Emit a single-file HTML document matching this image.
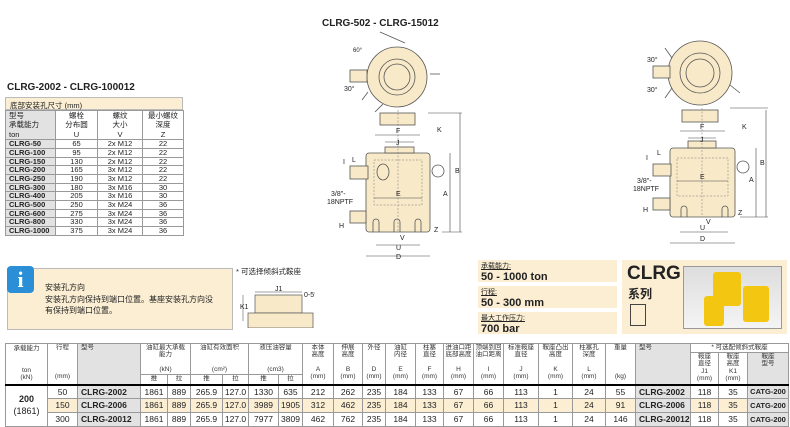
<!DOCTYPE html>
<html><head><meta charset="utf-8">
<style>
*{margin:0;padding:0;box-sizing:border-box}
body{width:790px;height:426px;background:#fff;position:relative;overflow:hidden;font-family:"Liberation Sans","Noto Sans CJK SC",sans-serif;color:#222}
.a{position:absolute}
table{border-collapse:collapse;table-layout:fixed;position:absolute}
td{border:1px solid #999;font-size:8px;text-align:center;padding:0;line-height:1;overflow:hidden;white-space:nowrap}
.lt td{height:8.7px;font-size:7.5px}
.g{background:#e2e2e2}
.b{font-weight:bold}
.bg{background:#fbeed3}
.mt td{font-size:8.5px}
.mt .h td{font-size:6.5px;color:#333;vertical-align:top;white-space:normal;line-height:1.12}
</style></head><body>

<div class="a b" style="left:7px;top:82px;font-size:10px">CLRG-2002 - CLRG-100012</div>
<div class="a bg" style="left:5px;top:97px;width:178px;height:13px;border:1px solid #bbb;font-size:7.5px;padding:2px 4px">底部安装孔尺寸 (mm)</div>
<table class="lt" style="left:5px;top:110px;width:178px">
<colgroup><col style="width:50px"><col style="width:42px"><col style="width:45px"><col style="width:41px"></colgroup>
<tr><td class="g" style="height:29px;text-align:left;padding-left:3px;white-space:normal;line-height:1.25">型号<br>承载能力<br>ton</td><td style="white-space:normal;line-height:1.25">螺栓<br>分布圆<br>U</td><td style="white-space:normal;line-height:1.25">螺纹<br>大小<br>V</td><td style="white-space:normal;line-height:1.25">最小螺纹<br>深度<br>Z</td></tr>
<tr><td class="g b" style="text-align:left;padding-left:3px">CLRG-50</td><td>65</td><td>2x M12</td><td>22</td></tr>
<tr><td class="g b" style="text-align:left;padding-left:3px">CLRG-100</td><td>95</td><td>2x M12</td><td>22</td></tr>
<tr><td class="g b" style="text-align:left;padding-left:3px">CLRG-150</td><td>130</td><td>2x M12</td><td>22</td></tr>
<tr><td class="g b" style="text-align:left;padding-left:3px">CLRG-200</td><td>165</td><td>3x M12</td><td>22</td></tr>
<tr><td class="g b" style="text-align:left;padding-left:3px">CLRG-250</td><td>190</td><td>3x M12</td><td>22</td></tr>
<tr><td class="g b" style="text-align:left;padding-left:3px">CLRG-300</td><td>180</td><td>3x M16</td><td>30</td></tr>
<tr><td class="g b" style="text-align:left;padding-left:3px">CLRG-400</td><td>205</td><td>3x M16</td><td>30</td></tr>
<tr><td class="g b" style="text-align:left;padding-left:3px">CLRG-500</td><td>250</td><td>3x M24</td><td>36</td></tr>
<tr><td class="g b" style="text-align:left;padding-left:3px">CLRG-600</td><td>275</td><td>3x M24</td><td>36</td></tr>
<tr><td class="g b" style="text-align:left;padding-left:3px">CLRG-800</td><td>330</td><td>3x M24</td><td>36</td></tr>
<tr><td class="g b" style="text-align:left;padding-left:3px">CLRG-1000</td><td>375</td><td>3x M24</td><td>36</td></tr>
</table>

<div class="a b" style="left:322px;top:18px;font-size:10px">CLRG-502 - CLRG-15012</div>

<svg class="a" style="left:0;top:0" width="790" height="260" viewBox="0 0 790 260">
<g stroke="#555" stroke-width="0.8" fill="#f8e9c9">
<circle cx="397" cy="77" r="30"/>
<circle cx="397" cy="77" r="18" fill="#f8e9c9"/>
<circle cx="397" cy="77" r="13"/>
<rect x="350" y="70" width="17" height="12"/>
<line x1="405" y1="43" x2="380" y2="32"/><line x1="430" y1="74" x2="440" y2="74"/><line x1="383" y1="104" x2="375" y2="112"/><line x1="368" y1="92" x2="362" y2="100"/>
<rect x="380" y="113" width="35" height="12"/>
<rect x="366" y="153" width="64" height="79" rx="3"/>
<rect x="385" y="147" width="29" height="6"/>
<rect x="350" y="166" width="18" height="13"/><ellipse cx="383" cy="172" rx="6" ry="8"/>
<rect x="350" y="211" width="16" height="12"/>
<circle cx="438" cy="171" r="6" fill="none"/>
<path d="M373 232v-10a3 3 0 0 1 6 0v10M394 232v-10a3 3 0 0 1 6 0v10M415 232v-10a3 3 0 0 1 6 0v10" fill="none"/>
<circle cx="700" cy="73" r="32"/>
<circle cx="700" cy="73" r="20"/>
<circle cx="700" cy="73" r="14"/>
<rect x="653" y="66" width="17" height="12"/>
<line x1="672" y1="58" x2="665" y2="48"/><line x1="672" y1="88" x2="665" y2="98"/><line x1="730" y1="85" x2="740" y2="93"/>
<rect x="682" y="110" width="36" height="12"/>
<rect x="670" y="148" width="65" height="69" rx="3"/>
<rect x="688" y="141" width="28" height="7"/>
<rect x="653" y="164" width="18" height="12"/><rect x="653" y="198" width="17" height="12"/>
<circle cx="743" cy="167" r="6" fill="none"/>
<path d="M681 217v-8a3 3 0 0 1 6 0v8M722 217v-8a3 3 0 0 1 6 0v8" fill="none"/>
</g>
<g stroke="#777" stroke-width="0.5" fill="none" stroke-dasharray="2 1.5">
<rect x="374" y="160" width="48" height="45"/><line x1="398" y1="110" x2="398" y2="232"/>
<rect x="677" y="158" width="51" height="38"/><line x1="702" y1="108" x2="702" y2="217"/>
</g>
<g stroke="#444" stroke-width="0.6" fill="none">
<line x1="375" y1="135" x2="420" y2="135"/><line x1="385" y1="142" x2="414" y2="142"/>
<line x1="374" y1="198" x2="422" y2="198"/>
<line x1="376" y1="245" x2="420" y2="245"/><line x1="366" y1="256" x2="430" y2="256"/>
<line x1="450" y1="153" x2="450" y2="232"/><line x1="460" y1="113" x2="460" y2="232"/>
<line x1="442" y1="232" x2="462" y2="232"/><line x1="428" y1="113" x2="462" y2="113"/>
<line x1="680" y1="131" x2="725" y2="131"/><line x1="688" y1="138" x2="716" y2="138"/>
<line x1="677" y1="181" x2="728" y2="181"/>
<line x1="680" y1="232" x2="728" y2="232"/><line x1="670" y1="243" x2="735" y2="243"/>
<line x1="756" y1="148" x2="756" y2="217"/><line x1="766" y1="110" x2="766" y2="217"/>
<line x1="740" y1="217" x2="768" y2="217"/><line x1="730" y1="108" x2="768" y2="108"/>
</g>
<g font-size="7" fill="#222" font-family="Liberation Sans">
<text x="396" y="133">F</text><text x="396" y="145">J</text><text x="396" y="196">E</text><text x="396" y="250">U</text><text x="396" y="259">D</text>
<text x="443" y="196">A</text><text x="455" y="173">B</text><text x="437" y="132">K</text><text x="434" y="232">Z</text><text x="400" y="240">V</text>
<text x="352" y="162">L</text><text x="343" y="164">I</text><text x="339" y="228">H</text><text x="331" y="196">3/8"-</text><text x="327" y="204">18NPTF</text>
<text x="353" y="52" font-size="6">60°</text><text x="344" y="91">30°</text>
<text x="700" y="129">F</text><text x="700" y="142">J</text><text x="700" y="179">E</text><text x="700" y="230">U</text><text x="700" y="241">D</text>
<text x="749" y="182">A</text><text x="760" y="165">B</text><text x="742" y="129">K</text><text x="738" y="215">Z</text><text x="706" y="224">V</text>
<text x="657" y="155">L</text><text x="646" y="160">I</text><text x="643" y="212">H</text><text x="637" y="183">3/8"-</text><text x="633" y="191">18NPTF</text>
<text x="647" y="62">30°</text><text x="647" y="92">30°</text>
</g>
</svg>

<div class="a bg" style="left:7px;top:268px;width:226px;height:62px;border:1px solid #bbb"></div>
<div class="a" style="left:7px;top:266px;width:27px;height:27px;background:#2a8fd6;border-radius:4px;color:#fff;font:bold 22px 'Liberation Serif',serif;text-align:center;line-height:27px">i</div>
<div class="a" style="left:45px;top:282px;font-size:8px;line-height:11.5px">安装孔方向<br>安装孔方向保持到端口位置。基座安装孔方向没<br>有保持到端口位置。</div>
<div class="a" style="left:236px;top:266px;font-size:7.5px">* 可选择倾斜式鞍座</div>
<svg class="a" style="left:240px;top:283px" width="75" height="45">
<g stroke="#555" stroke-width="0.7" fill="#f8e9c9"><rect x="15" y="12" width="47" height="18"/><rect x="8" y="30" width="65" height="15"/></g>
<g font-size="7" fill="#222"><text x="35" y="8">J1</text><text x="0" y="26">K1</text><text x="64" y="14">0-5°</text></g>
<line x1="3" y1="12" x2="3" y2="38" stroke="#444" stroke-width="0.5"/><line x1="15" y1="9" x2="62" y2="9" stroke="#444" stroke-width="0.5"/>
</svg>

<div class="a bg" style="left:478px;top:260px;width:139px;height:22px;padding:1px 3px"><div style="font-size:7px;text-decoration:underline">承载能力:</div><div class="b" style="font-size:11px">50 - 1000 ton</div></div>
<div class="a bg" style="left:478px;top:286px;width:139px;height:22px;padding:1px 3px"><div style="font-size:7px;text-decoration:underline">行程:</div><div class="b" style="font-size:11px">50 - 300 mm</div></div>
<div class="a bg" style="left:478px;top:312px;width:139px;height:22px;padding:1px 3px"><div style="font-size:7px;text-decoration:underline">最大工作压力:</div><div class="b" style="font-size:11px">700 bar</div></div>
<div class="a bg" style="left:622px;top:260px;width:165px;height:74px"></div>
<div class="a b" style="left:627px;top:263px;font-size:19px">CLRG</div>
<div class="a b" style="left:628px;top:285px;font-size:12px">系列</div>
<div class="a" style="left:630px;top:304px;width:16px;height:22px;border:1.5px solid #444"></div>
<div class="a" style="left:683px;top:266px;width:99px;height:63px;background:linear-gradient(#ddd,#f4f4f4);border:1px solid #999"></div>
<div class="a" style="left:713px;top:272px;width:28px;height:34px;background:#f3c612;border-radius:3px"></div>
<div class="a" style="left:743px;top:286px;width:26px;height:36px;background:#f3c612;border-radius:3px"></div>
<div class="a" style="left:704px;top:296px;width:20px;height:30px;background:#f3c612;border-radius:3px"></div>

<table class="mt" style="left:5px;top:343px;width:783px">
<colgroup><col style="width:42px"><col style="width:30px"><col style="width:63px"><col style="width:27px"><col style="width:23px"><col style="width:32px"><col style="width:26px"><col style="width:30px"><col style="width:24px"><col style="width:31px"><col style="width:29px"><col style="width:23px"><col style="width:30px"><col style="width:28px"><col style="width:30px"><col style="width:30px"><col style="width:35px"><col style="width:34px"><col style="width:33px"><col style="width:30px"><col style="width:55px"><col style="width:28px"><col style="width:29px"><col style="width:41px"></colgroup>
<tr class="h" style="height:9px">
<td rowspan="3" style="padding-top:1px">承载能力<br><br><br>ton<br>(kN)</td>
<td rowspan="3">行程<br><br><br><br>(mm)</td>
<td rowspan="3" class="g" style="text-align:left;padding-left:3px">型号</td>
<td colspan="2" rowspan="2">油缸最大承载<br>能力<br><br>(kN)</td>
<td colspan="2" rowspan="2">油缸有效面积<br><br><br>(cm²)</td>
<td colspan="2" rowspan="2">液压油容量<br><br><br>(cm3)</td>
<td rowspan="3">本体<br>高度<br><br>A<br>(mm)</td>
<td rowspan="3">伸展<br>高度<br><br>B<br>(mm)</td>
<td rowspan="3">外径<br><br><br>D<br>(mm)</td>
<td rowspan="3">油缸<br>内径<br><br>E<br>(mm)</td>
<td rowspan="3">柱塞<br>直径<br><br>F<br>(mm)</td>
<td rowspan="3">进油口距<br>底部高度<br><br>H<br>(mm)</td>
<td rowspan="3">顶端到回<br>油口距离<br><br>I<br>(mm)</td>
<td rowspan="3">标准鞍座<br>直径<br><br>J<br>(mm)</td>
<td rowspan="3">鞍座凸出<br>高度<br><br>K<br>(mm)</td>
<td rowspan="3">柱塞孔<br>深度<br><br>L<br>(mm)</td>
<td rowspan="3">重量<br><br><br><br>(kg)</td>
<td rowspan="3" class="g" style="text-align:left;padding-left:3px">型号</td>
<td colspan="3">* 可选配倾斜式鞍座</td>
</tr>
<tr class="h" style="height:22px">
<td rowspan="2">鞍座<br>直径<br>J1<br>(mm)</td><td rowspan="2">鞍座<br>高度<br>K1<br>(mm)</td><td rowspan="2" class="g">鞍座<br>型号</td>
</tr>
<tr class="h" style="height:10px"><td>推</td><td>拉</td><td>推</td><td>拉</td><td>推</td><td>拉</td></tr>
<tr style="height:14px;border-top:2px solid #000"><td rowspan="3" class="b" style="font-size:9px;line-height:1.3">200<br><span style="font-weight:normal">(1861)</span></td><td>50</td><td class="g b" style="text-align:left;padding-left:3px">CLRG-2002</td><td>1861</td><td>889</td><td>265.9</td><td>127.0</td><td>1330</td><td>635</td><td>212</td><td>262</td><td>235</td><td>184</td><td>133</td><td>67</td><td>66</td><td>113</td><td>1</td><td>24</td><td>55</td><td class="g b" style="text-align:left;padding-left:3px">CLRG-2002</td><td>118</td><td>35</td><td class="g b" style="font-size:7.5px">CATG-200</td></tr>
<tr style="height:14px" class="bg"><td>150</td><td class="g b" style="text-align:left;padding-left:3px">CLRG-2006</td><td>1861</td><td>889</td><td>265.9</td><td>127.0</td><td>3989</td><td>1905</td><td>312</td><td>462</td><td>235</td><td>184</td><td>133</td><td>67</td><td>66</td><td>113</td><td>1</td><td>24</td><td>91</td><td class="g b" style="text-align:left;padding-left:3px">CLRG-2006</td><td>118</td><td>35</td><td class="g b" style="font-size:7.5px">CATG-200</td></tr>
<tr style="height:14px"><td>300</td><td class="g b" style="text-align:left;padding-left:3px">CLRG-20012</td><td>1861</td><td>889</td><td>265.9</td><td>127.0</td><td>7977</td><td>3809</td><td>462</td><td>762</td><td>235</td><td>184</td><td>133</td><td>67</td><td>66</td><td>113</td><td>1</td><td>24</td><td>146</td><td class="g b" style="text-align:left;padding-left:3px">CLRG-20012</td><td>118</td><td>35</td><td class="g b" style="font-size:7.5px">CATG-200</td></tr>
</table>
</body></html>
